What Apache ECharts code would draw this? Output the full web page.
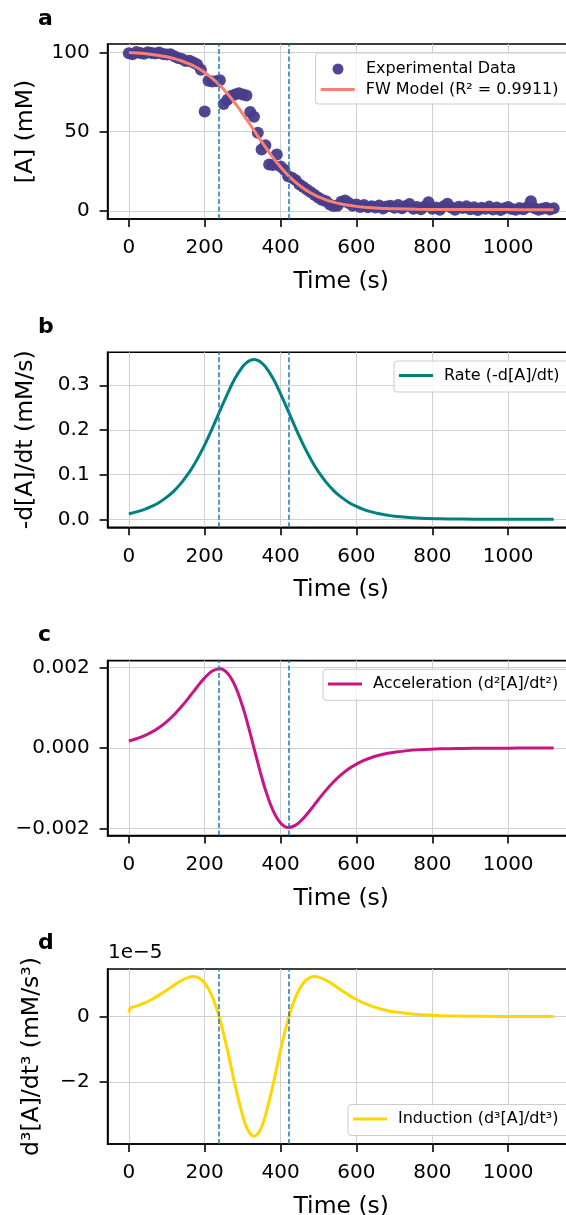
<!DOCTYPE html>
<html>
<head>
<meta charset="utf-8">
<script src="https://cdn.jsdelivr.net/npm/echarts@6/dist/echarts.min.js"></script>
<style>
html, body { margin: 0; padding: 0; background: #fff; }
#chart { width: 566px; height: 1215px; }
</style>
</head>
<body>
<div id="chart"></div>
<script>
// experimental points (panel a)
var expTime = [0, 10, 20, 30, 40, 50, 60, 70, 80, 90, 100, 110, 120, 130, 140, 150, 160, 170, 180, 190,
    200, 210, 220, 230, 240, 250, 260, 270, 280, 290, 300, 310, 320, 330, 340, 350, 360, 370, 380, 390,
    400, 410, 420, 430, 440, 450, 460, 470, 480, 490, 500, 510, 520, 530, 540, 550, 560, 570, 580, 590,
    600, 610, 620, 630, 640, 650, 660, 670, 680, 690, 700, 710, 720, 730, 740, 750, 760, 770, 780, 790,
    800, 810, 820, 830, 840, 850, 860, 870, 880, 890, 900, 910, 920, 930, 940, 950, 960, 970, 980, 990,
    1000, 1010, 1020, 1030, 1040, 1050, 1060, 1070, 1080, 1090, 1100, 1110, 1120];
var expConc = [99.4, 98.8, 100.3, 99.7, 99.1, 100.1, 99.6, 99.3, 99.9, 99.0, 98.7, 98.9, 97.6, 96.4, 95.9, 94.6, 94.8, 93.7, 92.4, 89.0,
    62.8, 82.1, 81.6, 81.9, 82.4, 67.5, 70.2, 72.6, 73.5, 74.2, 73.4, 72.9, 62.5, 59.5, 49.3, 38.8, 41.5, 29.3, 29.0, 35.6,
    28.1, 26.1, 21.9, 21.0, 19.5, 16.8, 15.2, 13.5, 11.8, 10.1, 8.4, 7.0, 6.2, 4.1, 3.2, 3.4, 5.9, 6.6, 5.1, 3.3,
    4.2, 2.6, 3.9, 2.4, 3.1, 2.2, 3.5, 1.6, 2.8, 3.3, 2.1, 3.9, 1.8, 3.2, 4.4, 1.5, 2.6, 1.2, 2.9, 5.6,
    1.4, 2.3, 0.9, 3.1, 4.6, 2.2, 0.8, 2.7, 1.9, 3.0, 1.1, 2.4, 0.7, 2.1, 1.5, 2.8, 1.0, 2.3, 0.6, 1.7,
    2.5, 1.3, 0.9, 2.0, 1.2, 2.4, 6.2, 1.8, 0.8, 1.5, 2.1, 1.0, 1.8];

// model curves, sampled along the time axis
var modelTime = [0, 5, 20, 40, 60, 80, 100, 120, 140, 160, 170, 180, 200, 220, 240, 260, 280, 300, 310, 320, 330,
    340, 350, 360, 380, 400, 420, 440, 460, 480, 490, 500, 520, 540, 560, 580, 600, 620, 640, 660, 680, 700,
    760, 820, 880, 940, 1000, 1060, 1120];
var modelConc = [99.92, 99.85, 99.63, 99.25, 98.74, 98.08, 97.21, 96.08, 94.61, 92.72, 91.60, 90.33, 87.33, 83.64, 79.19, 73.95, 67.98, 61.40, 57.94, 54.42, 50.85,
    47.28, 43.76, 40.30, 33.72, 27.75, 22.51, 18.06, 14.37, 11.37, 10.10, 8.98, 7.09, 5.62, 4.49, 3.62, 2.96, 2.45, 2.07, 1.78, 1.57, 1.40,
    1.11, 0.99, 0.94, 0.92, 0.91, 0.90, 0.90];
var rateVals = [0.0125, 0.0134, 0.0166, 0.0219, 0.0289, 0.0379, 0.0496, 0.0644, 0.0832, 0.1063, 0.1195, 0.1342, 0.1667, 0.2035, 0.2425, 0.2810, 0.3155, 0.3415, 0.3503, 0.3556, 0.3575,
    0.3556, 0.3503, 0.3415, 0.3155, 0.2810, 0.2425, 0.2035, 0.1667, 0.1342, 0.1195, 0.1063, 0.0832, 0.0644, 0.0496, 0.0379, 0.0289, 0.0219, 0.0166, 0.0125, 0.0095, 0.0071,
    0.0031, 0.0013, 0.0006, 0.0002, 0.0001, 0.0000, 0.0000];
var accelVals = [0.000176, 0.000189, 0.000232, 0.000303, 0.000396, 0.000512, 0.000658, 0.000834, 0.001042, 0.001274, 0.001394, 0.001517, 0.001742, 0.001910, 0.001968, 0.001858, 0.001547, 0.001031, 0.000711, 0.000363, 0,
    -0.000363, -0.000711, -0.001031, -0.001547, -0.001858, -0.001968, -0.001910, -0.001742, -0.001517, -0.001394, -0.001274, -0.001042, -0.000834, -0.000658, -0.000512, -0.000396, -0.000303, -0.000232, -0.000176, -0.000133, -0.000101,
    -0.000044, -0.000019, -0.000008, -0.000003, -0.000001, 0, 0];
var inductVals = [0.12e-5, 0.26e-5, 0.316e-5, 0.407e-5, 0.519e-5, 0.652e-5, 0.803e-5, 0.961e-5, 1.107e-5, 1.204e-5, 1.218e-5, 1.199e-5, 1.024e-5, 0.608e-5, -0.087e-5, -1.028e-5, -2.087e-5, -3.022e-5, -3.365e-5, -3.579e-5, -3.655e-5,
    -3.579e-5, -3.365e-5, -3.022e-5, -2.087e-5, -1.028e-5, -0.087e-5, 0.608e-5, 1.024e-5, 1.199e-5, 1.218e-5, 1.204e-5, 1.107e-5, 0.961e-5, 0.803e-5, 0.652e-5, 0.519e-5, 0.407e-5, 0.316e-5, 0.243e-5, 0.186e-5, 0.142e-5,
    0.063e-5, 0.026e-5, 0.011e-5, 0.005e-5, 0.002e-5, 0.001e-5, 0];

// inflection times (dashed lines)
var inflections = [238, 422];

// tick labels
var timeTicks = [0, 200, 400, 600, 800, 1000];
var concTicks = [0, 50, 100];
var rateTicks = [0, 0.1, 0.2, 0.3];
var accelTicks = [-0.002, 0, 0.002];
var inductTicks = [-2e-5, 0];

var FONT = 'DejaVu Sans';
var gridTops = [44, 352.3, 660.6, 969];
var gridLeft = 107.6;
var gridWidth = 467.3;
var gridHeight = 175;

function zip(xs, ys) {
    var out = [];
    for (var i = 0; i < xs.length; i++) {
        out.push([xs[i], ys[i]]);
    }
    return out;
}

function minusSign(s) {
    return String(s).replace('-', '\u2212');
}

function makeXAxis(idx) {
    return {
        type: 'value',
        gridIndex: idx,
        min: -56,
        max: 1176,
        name: 'Time (s)',
        nameLocation: 'middle',
        nameGap: 51,
        nameTextStyle: {fontFamily: FONT, fontSize: 23.5, color: '#000'},
        axisLine: {show: true, onZero: false, lineStyle: {color: '#000', width: 1.6}},
        axisTick: {show: true, length: 8, customValues: timeTicks, lineStyle: {color: '#000', width: 1.6}},
        axisLabel: {customValues: timeTicks, margin: 19, fontFamily: FONT, fontSize: 20, color: '#000',
            formatter: function (v) { return String(v); }},
        splitLine: {show: true, lineStyle: {color: '#d0d0d0', width: 1}}
    };
}

function makeYAxis(idx, min, max, ticks, fmt, name, gap) {
    return {
        type: 'value',
        gridIndex: idx,
        min: min,
        max: max,
        name: name,
        nameLocation: 'middle',
        nameRotate: 90,
        nameGap: gap,
        nameTextStyle: {fontFamily: FONT, fontSize: 23.5, color: '#000'},
        axisLine: {show: true, onZero: false, lineStyle: {color: '#000', width: 1.6}},
        axisTick: {show: true, length: 8, customValues: ticks, lineStyle: {color: '#000', width: 1.6}},
        axisLabel: {customValues: ticks, margin: 18, fontFamily: FONT, fontSize: 20, color: '#000', formatter: fmt},
        splitLine: {show: true, lineStyle: {color: '#d0d0d0', width: 1}}
    };
}

// legend entry without its own frame (frames are drawn as graphic rects)
function makeLegend(names, left, top, icon, iconW, iconH, textPad) {
    return {
        orient: 'vertical',
        left: left,
        top: top,
        itemWidth: iconW,
        itemHeight: iconH,
        itemGap: 6,
        padding: 0,
        selectedMode: false,
        icon: icon,
        z: 8,
        textStyle: {fontFamily: FONT, fontSize: 16, color: '#000', padding: [0, 0, 0, textPad]},
        data: names
    };
}

function legendFrame(left, top, height) {
    return {
        type: 'rect',
        left: left,
        top: top,
        z: 7,
        shape: {width: 270, height: height, r: 3},
        style: {fill: 'rgba(255,255,255,0.8)', stroke: '#cccccc', lineWidth: 1}
    };
}

var inflectionLines = {
    silent: true,
    symbol: 'none',
    label: {show: false},
    lineStyle: {color: '#1f77b4', type: [5, 2.5], width: 1.5},
    data: inflections.map(function (v) { return {xAxis: v}; })
};

function curve(name, idx, values, color) {
    return {
        name: name,
        type: 'line',
        xAxisIndex: idx,
        yAxisIndex: idx,
        data: zip(modelTime, values),
        symbol: 'none',
        showSymbol: false,
        smooth: 0.4,
        lineStyle: {color: color, width: 3},
        itemStyle: {color: color},
        markLine: inflectionLines,
        z: 3
    };
}

var chart = echarts.init(document.getElementById('chart'), null, {renderer: 'canvas'});

var option = {
    animation: false,
    backgroundColor: '#fff',
    grid: gridTops.map(function (t) {
        return {left: gridLeft, top: t, width: gridWidth, height: gridHeight, outerBoundsMode: 'none',
            containLabel: false, show: true, borderColor: '#000', borderWidth: 1.6, backgroundColor: 'transparent'};
    }),
    xAxis: [makeXAxis(0), makeXAxis(1), makeXAxis(2), makeXAxis(3)],
    yAxis: [
        makeYAxis(0, -5, 105.3, concTicks, function (v) { return String(v); }, '[A] (mM)', 70),
        makeYAxis(1, -0.0178, 0.3738, rateTicks, function (v) { return v.toFixed(1); }, '-d[A]/dt (mM/s)', 70),
        makeYAxis(2, -0.00217, 0.00217, accelTicks, function (v) { return minusSign(v.toFixed(3)); }, '', 60),
        makeYAxis(3, -3.89e-5, 1.45e-5, inductTicks, function (v) { return minusSign(Math.round(v / 1e-5)); }, 'd\u00b3[A]/dt\u00b3 (mM/s\u00b3)', 64)
    ],
    legend: [
        makeLegend(['Experimental Data'], 332.5, 61, 'circle', 11, 11, 17.5),
        makeLegend(['FW Model (R\u00b2 = 0.9911)'], 320.7, 81.5, 'rect', 34, 3, 6),
        makeLegend(['Rate (-d[A]/dt)'], 399, 367.5, 'rect', 34, 3, 6),
        makeLegend(['Acceleration (d\u00b2[A]/dt\u00b2)'], 328, 676, 'rect', 34, 3, 6),
        makeLegend(['Induction (d\u00b3[A]/dt\u00b3)'], 353, 1111, 'rect', 34, 3, 6)
    ],
    graphic: [
        legendFrame(315, 52.5, 51),
        legendFrame(393.5, 360.5, 31),
        legendFrame(322.5, 668.8, 31),
        legendFrame(347.5, 1104, 31),
        {type: 'text', left: 38, top: 8, style: {text: 'a', font: 'bold 22px "DejaVu Sans"', fill: '#000'}},
        {type: 'text', left: 38, top: 316, style: {text: 'b', font: 'bold 22px "DejaVu Sans"', fill: '#000'}},
        {type: 'text', left: 38, top: 624, style: {text: 'c', font: 'bold 22px "DejaVu Sans"', fill: '#000'}},
        {type: 'text', left: 38, top: 932, style: {text: 'd', font: 'bold 22px "DejaVu Sans"', fill: '#000'}},
        {type: 'text', left: 108, top: 943, style: {text: '1e\u22125', font: '20px "DejaVu Sans"', fill: '#000'}}
    ],
    series: [
        {
            name: 'Experimental Data',
            type: 'scatter',
            xAxisIndex: 0,
            yAxisIndex: 0,
            data: zip(expTime, expConc),
            symbolSize: 12,
            itemStyle: {color: '#483D8B', opacity: 0.95},
            z: 2
        },
        curve('FW Model (R\u00b2 = 0.9911)', 0, modelConc, '#FA8072'),
        curve('Rate (-d[A]/dt)', 1, rateVals, '#008080'),
        curve('Acceleration (d\u00b2[A]/dt\u00b2)', 2, accelVals, '#C71585'),
        curve('Induction (d\u00b3[A]/dt\u00b3)', 3, inductVals, '#FFD700')
    ]
};

chart.setOption(option);
</script>
</body>
</html>
